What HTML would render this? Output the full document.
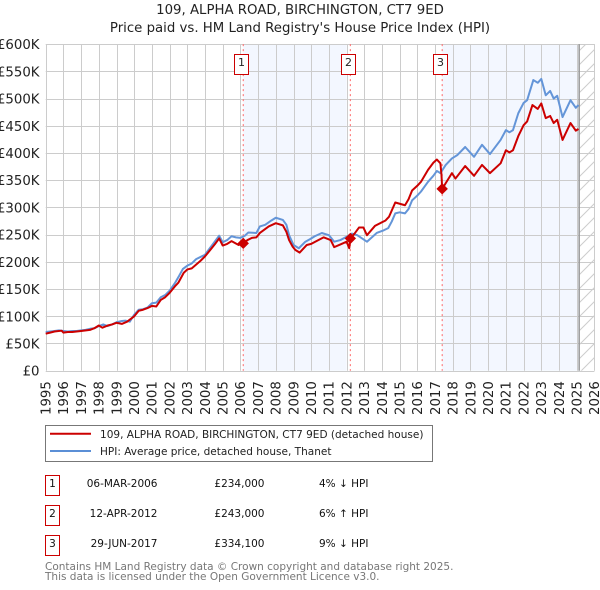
<!DOCTYPE html>
<html lang="en">
<head>
<meta charset="utf-8">
<title>109, ALPHA ROAD, BIRCHINGTON, CT7 9ED</title>
<style>
html,body{margin:0;padding:0;background:#fff;width:600px;height:590px;overflow:hidden}
svg{display:block}
text{font-family:"DejaVu Sans","Liberation Sans",sans-serif}
</style>
</head>
<body>
<svg id="chart" xmlns="http://www.w3.org/2000/svg" width="600" height="590" viewBox="0 0 600 590">
  <defs>
    <pattern id="hatch" patternUnits="userSpaceOnUse" width="14" height="14">
      <path d="M-1 15 L15 -1" stroke="#cccccc" stroke-width="1" fill="none"/>
      <path d="M-1 1 L1 -1 M13 15 L15 13" stroke="#cccccc" stroke-width="1" fill="none"/>
    </pattern>
  </defs>
  <text x="300" y="14" text-anchor="middle" font-size="13.3" fill="#222">109, ALPHA ROAD, BIRCHINGTON, CT7 9ED</text>
  <text x="300" y="32" text-anchor="middle" font-size="13.3" fill="#222">Price paid vs. HM Land Registry's House Price Index (HPI)</text>
  <g id="plot"></g>

  <g>
    <rect x="45.5" y="425.5" width="387" height="36" fill="#fff" stroke="#777" stroke-width="1"/>
    <line x1="50" x2="91" y1="433.8" y2="433.8" stroke="#cc0000" stroke-width="2"/>
    <text x="100" y="438" font-size="10.53" fill="#222">109, ALPHA ROAD, BIRCHINGTON, CT7 9ED (detached house)</text>
    <line x1="50" x2="91" y1="451" y2="451" stroke="#5b8fd6" stroke-width="2"/>
    <text x="100" y="455" font-size="10.53" fill="#222">HPI: Average price, detached house, Thanet</text>
  </g>

  <g font-size="10.5" fill="#111">
    <g>
      <rect x="45.5" y="475.5" width="14" height="20" fill="#fff" stroke="#cc0000"/>
      <text x="52.5" y="487" text-anchor="middle">1</text>
      <text x="157.5" y="487" text-anchor="end">06-MAR-2006</text>
      <text x="264.5" y="487" text-anchor="end">£234,000</text>
      <text x="319" y="487">4% ↓ HPI</text>
    </g>
    <g>
      <rect x="45.5" y="505.5" width="14" height="20" fill="#fff" stroke="#cc0000"/>
      <text x="52.5" y="517" text-anchor="middle">2</text>
      <text x="157.5" y="517" text-anchor="end">12-APR-2012</text>
      <text x="264.5" y="517" text-anchor="end">£243,000</text>
      <text x="319" y="517">6% ↑ HPI</text>
    </g>
    <g>
      <rect x="45.5" y="535.5" width="14" height="20" fill="#fff" stroke="#cc0000"/>
      <text x="52.5" y="547" text-anchor="middle">3</text>
      <text x="157.5" y="547" text-anchor="end">29-JUN-2017</text>
      <text x="264.5" y="547" text-anchor="end">£334,100</text>
      <text x="319" y="547">9% ↓ HPI</text>
    </g>
  </g>

  <text x="45" y="570" font-size="10.5" fill="#777">Contains HM Land Registry data © Crown copyright and database right 2025.</text>
  <text x="45" y="580" font-size="10.5" fill="#777">This data is licensed under the Open Government Licence v3.0.</text>
</svg>
<script>
const yearTicks = [1995,1996,1997,1998,1999,2000,2001,2002,2003,2004,2005,2006,2007,2008,2009,2010,2011,2012,2013,2014,2015,2016,2017,2018,2019,2020,2021,2022,2023,2024,2025,2026];
const priceTicks = [0,50,100,150,200,250,300,350,400,450,500,550,600];
const priceTickLabels = ['£0','£50K','£100K','£150K','£200K','£250K','£300K','£350K','£400K','£450K','£500K','£550K','£600K'];

const hpiDates = [1995,1995.25,1995.5,1995.75,1996,1996.25,1996.5,1996.75,1997,1997.25,1997.5,1997.75,1998,1998.25,1998.5,1998.75,1999,1999.25,1999.5,1999.75,2000,2000.25,2000.5,2000.75,2001,2001.25,2001.5,2001.75,2002,2002.3,2002.55,2002.75,2003,2003.25,2003.5,2003.75,2004,2004.25,2004.5,2004.8,2005,2005.25,2005.5,2005.75,2006,2006.25,2006.45,2006.9,2007.1,2007.4,2007.75,2008,2008.4,2008.6,2008.75,2009,2009.3,2009.67,2009.95,2010.2,2010.4,2010.6,2011,2011.3,2011.65,2012,2012.3,2012.6,2013.15,2013.7,2014.1,2014.35,2014.55,2014.75,2015,2015.3,2015.5,2015.7,2016,2016.2,2016.6,2016.9,2017.1,2017.3,2017.6,2017.95,2018.25,2018.7,2019.2,2019.65,2020.1,2020.7,2021,2021.2,2021.4,2021.7,2022,2022.2,2022.55,2022.8,2023,2023.25,2023.5,2023.7,2023.9,2024.2,2024.65,2024.95,2025.1];
const hpiValues = [71,72,73,74,73,72,73,73,74,75,77,78,82,85,82,85,89,91,92,90,103,112,113,116,124,125,135,139,147,161,175,187,193,197,205,209,213,224,235,248,236,240,247,245,244,248,254,253,265,268,276,281,277,268,249,231,225,237,242,247,250,253,249,237,240,246,252,249,237,253,258,262,274,289,291,289,297,313,322,329,347,358,367,363,378,390,396,411,393,415,398,424,442,438,442,473,492,497,534,529,536,506,514,500,505,466,497,483,488];

const priceDates = [1995,1995.25,1995.5,1995.9,1996,1996.25,1996.5,1996.75,1997,1997.5,1997.75,1998,1998.2,1998.5,1998.75,1999,1999.3,1999.6,2000,2000.25,2000.5,2000.75,2001,2001.25,2001.5,2001.75,2002,2002.3,2002.5,2002.8,2003,2003.25,2003.75,2004,2004.3,2004.55,2004.8,2005,2005.25,2005.5,2005.9,2006.16,2006.4,2006.65,2006.9,2007.1,2007.6,2008,2008.4,2008.6,2008.75,2008.95,2009.1,2009.35,2009.75,2010,2010.4,2010.7,2011.1,2011.3,2011.65,2012,2012.15,2012.21,2012.45,2012.7,2012.95,2013.15,2013.6,2014.2,2014.4,2014.75,2015.3,2015.5,2015.7,2016,2016.2,2016.6,2016.9,2017.1,2017.3,2017.36,2017.4,2017.95,2018.15,2018.7,2019.2,2019.65,2020.1,2020.7,2021,2021.2,2021.4,2021.7,2022,2022.2,2022.5,2022.8,2023,2023.25,2023.5,2023.7,2023.9,2024.2,2024.65,2024.95,2025.1];
const priceValues = [68,70,72,73.5,70,71,71,72,73,75,78,83,79,83,85,88,86,90,100,110,112,115,119,118,130,135,143,155,162,180,186,188,202,210,222,232,243,230,233,238,231,234,240,244,245,253,265,271,267,255,240,228,222,217,231,233,240,245,240,227,232,237,225,243,252,263,263,249,266,276,283,309,304,315,331,340,347,369,382,388,381,360,334.1,363,353,376,358,378,363,381,405,401,405,431,451,458,488,481,491,464,468,455,461,424,455,441,444];

const saleDates = [2006.16,2012.21,2017.40];
const salePrices = [234,243,334.1];
const saleLabels = ['1','2','3'];

const NS = 'http://www.w3.org/2000/svg';
const plot = document.getElementById('plot');
const X0 = 45.7, XPERYEAR = 17.7, Y0 = 370.7, YPERK = 0.5443;
function xScale(year){ return X0 + (year - yearTicks[0]) * XPERYEAR; }
function yScale(k){ return Y0 - k * YPERK; }
const plotLeft = xScale(1995), plotRight = xScale(2026), plotTop = yScale(600), plotBottom = yScale(0);
const dataEndYear = 2025.14;
const shadeBreakYear = 2012;

function make(tag, parent, attrs){
  const el = document.createElementNS(NS, tag);
  for (const k in attrs) el.setAttribute(k, attrs[k]);
  parent.appendChild(el);
  return el;
}

const shade1 = make('rect', plot, {x:xScale(saleDates[0]), y:plotTop, width:xScale(shadeBreakYear)-xScale(saleDates[0]), height:plotBottom-plotTop, fill:'#f3f7ff'});


const shade2 = make('rect', plot, {x:xScale(saleDates[2]), y:plotTop, width:xScale(dataEndYear)-xScale(saleDates[2]), height:plotBottom-plotTop, fill:'#f3f7ff'});


const hatch = make('rect', plot, {x:xScale(dataEndYear), y:plotTop, width:plotRight-xScale(dataEndYear), height:plotBottom-plotTop, fill:'url(#hatch)'});



yearTicks.forEach(function(yr){
  const x = Math.round(xScale(yr)) + 0.5;
  const g = make('line', plot, {x1:x, x2:x, y1:plotTop, y2:plotBottom, stroke:'#cccccc', 'stroke-width':1});
  
  
  const by = 415, lx = xScale(yr) + 4.8;
  const t = make('text', plot, {x:lx, y:by, 'font-size':13.3, fill:'#222', transform:'rotate(-90 ' + lx + ' ' + by + ')'});
  
  
  t.textContent = String(yr);
});
priceTicks.forEach(function(v, i){
  const y = Math.round(yScale(v)) + 0.5;
  const g = make('line', plot, {x1:plotLeft, x2:plotRight, y1:y, y2:y, stroke:'#cccccc', 'stroke-width':1});
  
  
  const t = make('text', plot, {x:39.5, y:yScale(v) + 5, 'font-size':13.3, 'text-anchor':'end', fill:'#222'});
  
  
  t.textContent = priceTickLabels[i];
});

const endBar = make('line', plot, {x1:xScale(dataEndYear), x2:xScale(dataEndYear), y1:plotTop, y2:plotBottom, stroke:'#999999', 'stroke-width':1.5});



saleDates.forEach(function(d){
  const x = xScale(d);
  const l = make('line', plot, {x1:x, x2:x, y1:plotTop, y2:plotBottom, stroke:'#ff6666', 'stroke-width':1, 'stroke-dasharray':'2 3'});
  
  
});

function pathFrom(dates, values){
  return dates.map(function(d, i){
    return (i ? 'L' : 'M') + xScale(d).toFixed(2) + ' ' + yScale(values[i]).toFixed(2);
  }).join(' ');
}
const hpiLine = make('path', plot, {d:pathFrom(hpiDates, hpiValues), fill:'none', stroke:'#6495d8', 'stroke-width':2, 'stroke-linejoin':'round'});


const priceLine = make('path', plot, {d:pathFrom(priceDates, priceValues), fill:'none', stroke:'#cc0000', 'stroke-width':2, 'stroke-linejoin':'round'});



saleDates.forEach(function(d, i){
  const cx = xScale(d), cy = yScale(salePrices[i]), r = 5;
  const m = make('polygon', plot, {points:[cx-r,cy,cx,cy-r,cx+r,cy,cx,cy+r].join(' '), fill:'#cc0000', stroke:'#cc0000', 'stroke-width':1});
  
  
  const bx = Math.round(cx - 2.5) - 7 + 0.5;
  const b = make('rect', plot, {x:bx, y:54.5, width:14, height:20, fill:'#fff', stroke:'#cc0000', 'stroke-width':1});
  
  
  const t = make('text', plot, {x:bx + 7, y:66, 'font-size':11, 'text-anchor':'middle', fill:'#222'});
  
  
  t.textContent = saleLabels[i];
});
</script>
</body>
</html>
